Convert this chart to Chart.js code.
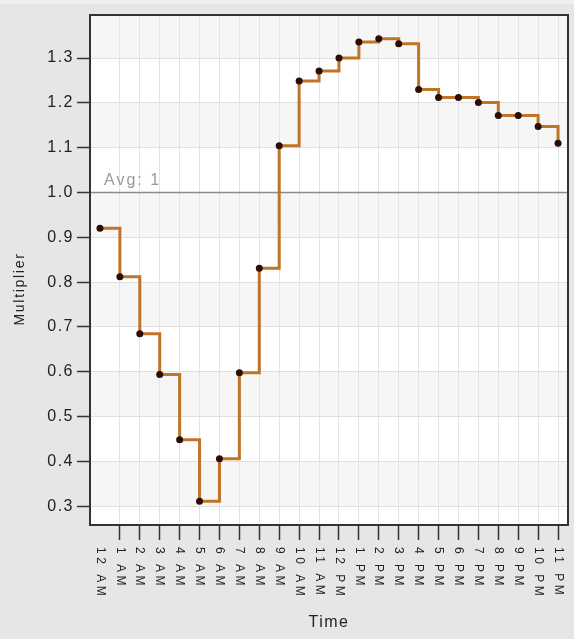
<!DOCTYPE html>
<html>
<head>
<meta charset="utf-8">
<script src="https://cdn.jsdelivr.net/npm/chart.js@4"></script>
<style>
    html, body { margin: 0; padding: 0; }
    body { background: linear-gradient(#efefef 0, #efefef 4px, #e6e6e6 4px); width: 574px; height: 639px; }
    canvas { display: block; }
</style>
</head>
<body>
<canvas id="multiplierchart" width="574" height="639"></canvas>
<script>
// Data block
const hourLabels = ['12 AM', '1 AM', '2 AM', '3 AM', '4 AM', '5 AM', '6 AM', '7 AM', '8 AM', '9 AM', '10 AM', '11 AM',
                    '12 PM', '1 PM', '2 PM', '3 PM', '4 PM', '5 PM', '6 PM', '7 PM', '8 PM', '9 PM', '10 PM', '11 PM'];
const multipliers = [0.920, 0.812, 0.685, 0.594, 0.448, 0.311, 0.406, 0.598, 0.831, 1.104, 1.249, 1.271,
                     1.300, 1.336, 1.343, 1.332, 1.230, 1.212, 1.212, 1.201, 1.172, 1.172, 1.147, 1.110];
const yTickValues = [0.3, 0.4, 0.5, 0.6, 0.7, 0.8, 0.9, 1.0, 1.1, 1.2, 1.3];
const avgValue = 1;

// Setup block
const multiplierData = {
    labels: hourLabels,
    datasets: [{
        label: 'Multiplier',
        data: multipliers,
        stepped: 'before',
        borderColor: '#c07428',
        borderWidth: 3,
        pointRadius: 3.5,
        pointBackgroundColor: '#2b0d05',
        pointBorderWidth: 0,
        fill: false
    }]
};

// Decoration plugin block (bands, avg line, frame, rotated labels)
const plotDecor = {
    id: 'plotDecor',
    beforeDraw(chart) {
        const {ctx, chartArea: a, scales: {y}} = chart;
        ctx.save();
        ctx.fillStyle = '#ffffff';
        ctx.fillRect(a.left, a.top, a.right - a.left, a.bottom - a.top);
        // alternating bands, grey from 0.3 to 0.4 and so on
        const edges = [y.min].concat(yTickValues, [y.max]);
        ctx.fillStyle = '#f6f6f6';
        for (let i = 1; i < edges.length - 1; i++) {
            if ((i - 1) % 2 !== 0) continue;
            const top = y.getPixelForValue(edges[i + 1]);
            const bottom = y.getPixelForValue(edges[i]);
            ctx.fillRect(a.left, top, a.right - a.left, bottom - top);
        }
        ctx.restore();
        ctx.letterSpacing = '1.5px';
    },
    beforeDatasetsDraw(chart) {
        const {ctx, chartArea: a, scales: {y}} = chart;
        const py = y.getPixelForValue(avgValue);
        ctx.save();
        ctx.strokeStyle = '#8a8a8a';
        ctx.lineWidth = 1.5;
        ctx.beginPath();
        ctx.moveTo(a.left, py);
        ctx.lineTo(a.right, py);
        ctx.stroke();
        ctx.fillStyle = '#9a9a9a';
        ctx.font = '16px "Liberation Sans", Arial, sans-serif';
        ctx.letterSpacing = '2px';
        ctx.textAlign = 'left';
        ctx.textBaseline = 'alphabetic';
        ctx.fillText('Avg: ' + avgValue, a.left + 14, py - 7);
        ctx.restore();
    },
    afterDraw(chart) {
        const {ctx, chartArea: a, scales: {x}} = chart;
        ctx.save();
        ctx.strokeStyle = '#333333';
        ctx.lineWidth = 2;
        ctx.strokeRect(a.left, a.top, a.right - a.left, a.bottom - a.top);

        // hour labels, read top to bottom
        ctx.fillStyle = '#222222';
        ctx.font = '12px "Liberation Sans", Arial, sans-serif';
        ctx.letterSpacing = '3.5px';
        ctx.textAlign = 'left';
        ctx.textBaseline = 'middle';
        hourLabels.forEach((lab, i) => {
            ctx.save();
            ctx.translate(x.getPixelForValue(i), a.bottom + 22);
            ctx.rotate(Math.PI / 2);
            ctx.fillText(lab, 0, 0);
            ctx.restore();
        });

        // y axis title
        ctx.font = '14px "Liberation Sans", Arial, sans-serif';
        ctx.letterSpacing = '1.7px';
        ctx.textAlign = 'center';
        ctx.translate(20, 289);
        ctx.rotate(-Math.PI / 2);
        ctx.fillText('Multiplier', 0, 0);
        ctx.restore();
    }
};

// Config block
const multiplierConfig = {
    type: 'line',
    data: multiplierData,
    options: {
        responsive: false,
        animation: false,
        devicePixelRatio: 1,
        layout: {
            padding: {left: 0, top: 15, right: 6, bottom: 0}
        },
        plugins: {
            legend: {display: false},
            tooltip: {enabled: false}
        },
        scales: {
            x: {
                type: 'category',
                offset: true,
                grid: {
                    offset: false,
                    color: (c) => c.index === 0 ? 'rgba(0,0,0,0)' : '#e3e3e3',
                    tickColor: (c) => c.index === 0 ? 'rgba(0,0,0,0)' : '#333333',
                    tickLength: 15,
                    tickWidth: 1.5
                },
                border: {color: '#333333', width: 2},
                ticks: {display: false},
                title: {
                    display: true,
                    text: 'Time',
                    color: '#222222',
                    font: {family: '"Liberation Sans", Arial, sans-serif', size: 16},
                    padding: {top: 0, bottom: 7}
                },
                afterFit(scale) {
                    scale.height = 114;
                }
            },
            y: {
                type: 'linear',
                min: 0.258,
                max: 1.396,
                afterBuildTicks(scale) {
                    scale.ticks = yTickValues.map(v => ({value: v}));
                },
                grid: {
                    color: '#e0e0e0',
                    tickColor: '#333333',
                    tickLength: 13,
                    tickWidth: 1.5
                },
                border: {color: '#333333', width: 2},
                ticks: {
                    color: '#222222',
                    padding: 3,
                    font: {family: '"Liberation Sans", Arial, sans-serif', size: 16},
                    callback: (v) => Number(v).toFixed(1)
                },
                afterFit(scale) {
                    scale.width = 90;
                }
            }
        }
    },
    plugins: [plotDecor]
};

// render / init block
const multiplierChart = new Chart(
    document.getElementById('multiplierchart'),
    multiplierConfig
);
</script>
</body>
</html>
